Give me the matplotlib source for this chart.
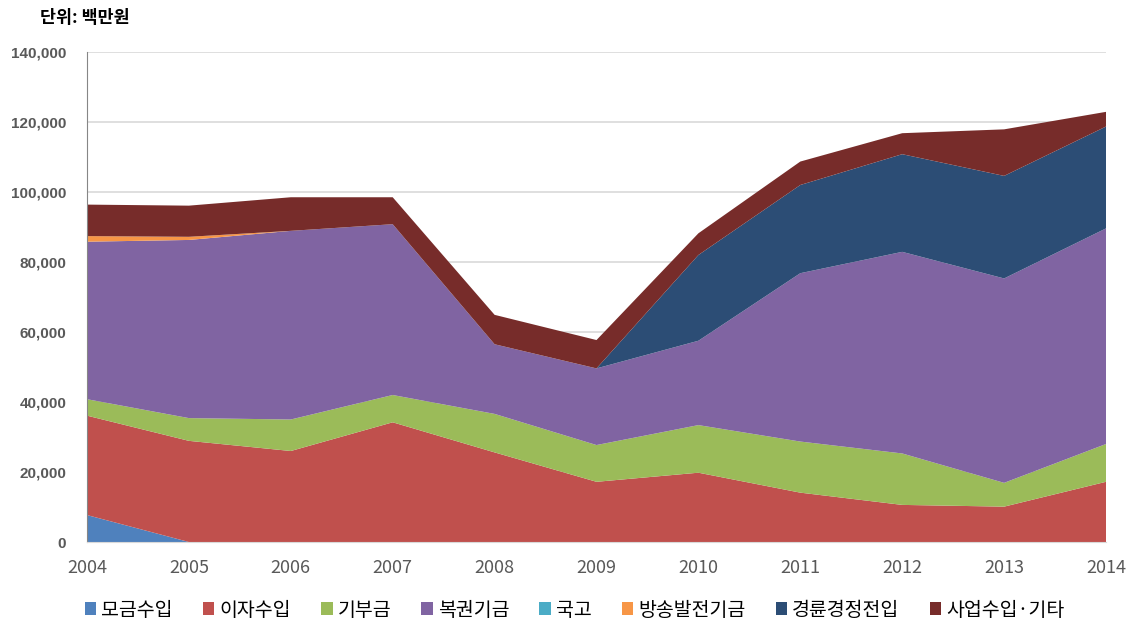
import matplotlib
matplotlib.use("Agg")
import matplotlib.pyplot as plt
from matplotlib.patches import Patch
from matplotlib.ticker import FuncFormatter, MultipleLocator

plt.rcParams['font.family'] = ['Noto Sans CJK KR', 'DejaVu Sans']

years = [2004, 2005, 2006, 2007, 2008, 2009, 2010, 2011, 2012, 2013, 2014]
series_names = ['모금수입', '이자수입', '기부금', '복권기금', '국고', '방송발전기금', '경륜경정전입', '사업수입·기타']
donation_income = [7700, 0, 0, 0, 0, 0, 0, 0, 0, 0, 0]
interest_income = [28400, 28900, 26000, 34200, 25600, 17200, 19800, 14100, 10600, 10100, 17200]
contributions = [4700, 6500, 9000, 7800, 11000, 10500, 13600, 14600, 14700, 6800, 10800]
lottery_fund = [45000, 50900, 53900, 48800, 19900, 21900, 24100, 48100, 57600, 58400, 61600]
national_treasury = [0, 0, 0, 0, 0, 0, 0, 0, 0, 0, 0]
broadcast_fund = [1600, 900, 0, 0, 0, 0, 0, 0, 0, 0, 0]
racing_transfer = [0, 0, 0, 0, 0, 0, 24500, 25200, 27900, 29300, 29100]
business_other = [9000, 8900, 9600, 7700, 8400, 8100, 6200, 6700, 6000, 13300, 4200]

colors = ['#4F81BD', '#C0504D', '#9BBB59', '#8064A2', '#4BACC6', '#F79646', '#2C4D75', '#772C2A']
data = [donation_income, interest_income, contributions, lottery_fund,
        national_treasury, broadcast_fund, racing_transfer, business_other]

fig = plt.figure(figsize=(11.33, 6.25), dpi=100)
ax = fig.add_axes([87/1133, 1-542/625, (1106-87)/1133, (542-52)/625])

ax.stackplot(years, *data, colors=colors, linewidth=0)

ax.set_xlim(2004, 2014)
ax.set_ylim(0, 140000)
ax.yaxis.set_major_locator(MultipleLocator(20000))
ax.xaxis.set_major_locator(MultipleLocator(1))
ax.yaxis.set_major_formatter(FuncFormatter(lambda v, p: f"{int(v):,}"))
ax.grid(axis='y', color='#D9D9D9', linewidth=1.2)
ax.set_axisbelow(True)
for s in ['top', 'right']:
    ax.spines[s].set_visible(False)
ax.spines['left'].set_color('#868686')
ax.spines['bottom'].set_color('#D9D9D9')
ax.tick_params(axis='both', length=0)
ax.tick_params(axis='y', pad=15, labelcolor='#595959', labelsize=11)
ax.tick_params(axis='x', pad=12, labelcolor='#595959', labelsize=13)
for lbl in ax.get_yticklabels():
    lbl.set_fontweight('bold')
    lbl.set_family(['Liberation Sans'])

fig.text(40/1133, 1-18/625, '단위: 백만원', fontsize=12.5, fontweight='bold', va='center', ha='left', color='#000000')

handles = [Patch(facecolor=c, edgecolor='none') for c in colors]
fig.legend(handles, series_names, loc='center', bbox_to_anchor=(0.507, 1-610/625), ncol=8,
           frameon=False, fontsize=14, handlelength=0.6, handleheight=0.6,
           handletextpad=0.25, columnspacing=1.55, labelcolor='#000000')

fig.savefig('out.png', dpi=100)
